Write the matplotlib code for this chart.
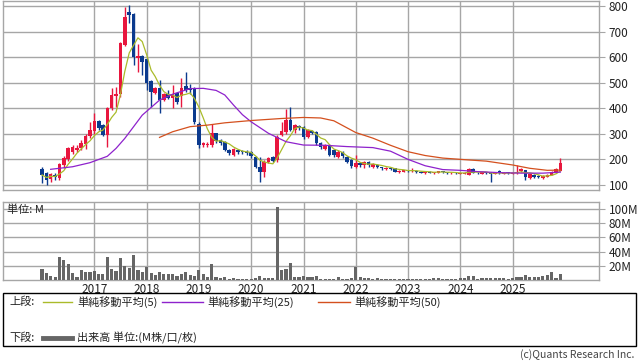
import matplotlib
matplotlib.use("Agg")
import matplotlib.pyplot as plt
import pandas as pd

plt.rcParams['font.family'] = ['Noto Sans CJK JP', 'DejaVu Sans']

# ======================
# monthly data 2016-01 .. 2025-12
# ======================
months = pd.date_range("2016-01-01", periods=120, freq="MS")

opens = [162, 148, 123, 137, 128, 178, 200, 230, 238, 245, 262, 292,
         312, 351, 334, 295, 400, 448, 455, 647, 775, 768, 596, 604,
         591, 506, 460, 479, 432, 455, 440, 458, 447, 487, 478, 479,
         340, 256, 258, 256, 302, 274, 268, 238, 218, 238, 232, 230,
         228, 210, 172, 150, 190, 210, 197, 295, 307, 354, 315, 332,
         327, 288, 312, 306, 263, 242, 256, 236, 210, 230, 210, 197,
         171, 186, 178, 190, 172, 178, 170, 163, 167, 165, 150, 152,
         157, 153, 155, 151, 146, 152, 146, 148, 153, 149, 145, 148,
         143, 144, 140, 163, 148, 144, 150, 147, 143, 156, 144, 150,
         144, 146, 153, 158, 127, 139, 135, 126, 132, 139, 147, 156]
highs = [170, 150, 148, 146, 185, 215, 250, 255, 256, 275, 300, 345,
         380, 356, 340, 406, 478, 485, 660, 795, 803, 772, 653, 610,
         595, 510, 485, 510, 460, 470, 491, 462, 517, 541, 495, 485,
         345, 268, 268, 338, 305, 280, 272, 242, 245, 242, 238, 235,
         232, 215, 210, 197, 208, 212, 295, 346, 396, 405, 340, 336,
         330, 318, 316, 310, 268, 262, 262, 240, 238, 232, 215, 200,
         217, 190, 195, 192, 185, 180, 172, 172, 169, 167, 158, 160,
         160, 165, 157, 153, 154, 154, 152, 156, 155, 151, 150, 149,
         148, 150, 168, 166, 150, 152, 151, 149, 151, 158, 150, 152,
         150, 178, 165, 160, 145, 141, 137, 137, 141, 154, 165, 205]
lows = [107, 100, 113, 118, 120, 165, 195, 220, 228, 238, 240, 285,
        300, 315, 290, 249, 393, 405, 445, 645, 735, 569, 542, 529,
        471, 406, 455, 381, 428, 435, 400, 418, 405, 464, 455, 340,
        245, 250, 250, 250, 265, 258, 232, 218, 212, 222, 222, 218,
        205, 168, 111, 132, 186, 190, 190, 290, 300, 310, 305, 315,
        280, 282, 298, 258, 240, 238, 212, 210, 205, 205, 185, 165,
        165, 172, 168, 172, 168, 166, 160, 160, 158, 150, 148, 150,
        150, 151, 148, 145, 144, 145, 144, 146, 147, 144, 143, 142,
        141, 142, 138, 145, 143, 142, 144, 112, 141, 143, 142, 143,
        142, 144, 150, 121, 125, 128, 126, 124, 130, 137, 145, 154]
closes = [139, 119, 142, 132, 180, 205, 243, 248, 246, 263, 291, 315,
          351, 321, 295, 400, 452, 456, 654, 757, 764, 600, 604, 581,
          498, 463, 478, 432, 455, 442, 455, 425, 479, 471, 470, 346,
          256, 264, 262, 302, 273, 264, 238, 225, 240, 230, 228, 225,
          212, 172, 150, 190, 205, 195, 288, 311, 353, 315, 334, 322,
          288, 314, 305, 263, 248, 256, 218, 218, 230, 212, 191, 174,
          186, 178, 190, 176, 180, 170, 165, 168, 162, 152, 156, 158,
          153, 160, 150, 147, 152, 148, 150, 154, 149, 146, 148, 145,
          146, 148, 163, 148, 145, 150, 146, 143, 149, 145, 148, 145,
          148, 152, 162, 132, 143, 131, 129, 135, 139, 152, 162, 187]
# 出来高 (M)
volumes = [15.8, 10.7, 6.5, 4.7, 32.6, 28.4, 22.8, 10.2, 5.1, 14.4, 12.1, 12.1,
           13.5, 8.8, 8.8, 32.6, 15.8, 13.0, 31.6, 19.5, 17.7, 35.3, 14.4, 11.6,
           19.0, 9.8, 7.4, 11.6, 8.8, 8.8, 8.8, 6.0, 8.8, 11.2, 7.0, 6.0,
           14.4, 8.8, 5.1, 22.8, 4.7, 3.3, 4.7, 1.9, 2.8, 1.9, 2.0, 1.4,
           1.9, 3.7, 6.0, 2.8, 3.7, 2.8, 102.0, 14.9, 15.8, 24.2, 4.7, 4.2,
           6.0, 5.1, 5.1, 6.0, 2.3, 1.9, 1.5, 1.5, 4.2, 1.5, 2.3, 3.3,
           18.6, 4.2, 2.8, 2.8, 1.9, 2.8, 1.9, 1.9, 1.9, 1.4, 1.4, 1.4,
           1.4, 1.4, 1.4, 1.9, 1.9, 1.9, 2.8, 2.8, 1.9, 1.9, 1.9, 1.9,
           3.3, 3.3, 5.6, 5.6, 1.9, 2.8, 3.3, 3.3, 3.7, 3.7, 2.8, 2.3,
           3.3, 5.1, 5.1, 7.9, 4.7, 4.7, 4.7, 6.0, 7.0, 12.0, 3.7, 8.4]

# 移動平均
ma25_months = ["2016-03", "2016-08", "2016-12", "2017-04", "2017-06", "2017-08",
               "2017-09", "2017-12", "2018-04", "2018-07", "2018-11", "2019-02",
               "2019-05", "2019-07", "2019-09", "2019-11", "2020-01", "2020-05",
               "2020-09", "2021-01", "2021-06", "2021-11", "2022-05", "2022-09",
               "2023-01", "2023-05", "2023-09", "2024-01", "2024-05", "2024-10",
               "2025-03", "2025-08", "2025-12"]
ma25_values = [161, 171, 187, 212, 243, 282, 305, 373, 432, 455, 477, 478,
               470, 452, 412, 375, 347, 302, 269, 256, 255, 250, 246, 232,
               200, 175, 160, 157, 152, 148, 146, 146, 150]
ma50_months = ["2018-04", "2018-07", "2018-11", "2019-03", "2019-07", "2020-01",
               "2020-08", "2021-01", "2021-05", "2021-08", "2022-01", "2022-05",
               "2022-09", "2023-01", "2023-05", "2023-09", "2024-01", "2024-07",
               "2025-01", "2025-05", "2025-09", "2025-12"]
ma50_values = [286, 308, 328, 334, 343, 352, 360, 364, 362, 351, 305, 283,
               255, 230, 215, 205, 200, 193, 178, 165, 157, 158]

year_ticks = list(range(2017, 2026))

UP = "#e8163e"
DOWN = "#0b3a8e"
C_MA5 = "#aabb2a"
C_MA25 = "#8e22cc"
C_MA50 = "#d4501e"
GRID = "#a6a6a6"

W, H = 638, 362


def fx(x):
    return x / W


def fy(y):
    return 1 - y / H


fig = plt.figure(figsize=(W / 100, H / 100), dpi=100)
ax = fig.add_axes([fx(3), fy(190), 596 / W, 189 / H])
axv = fig.add_axes([fx(3), fy(280.3), 596 / W, 78.3 / H])

df = pd.DataFrame({"open": opens, "high": highs, "low": lows,
                   "close": closes, "vol": volumes}, index=months)
df["ma5"] = df["close"].rolling(5, min_periods=1).mean()
up = df["close"] >= df["open"]
colors = [UP if u else DOWN for u in up]

# candles
ax.vlines(df.index, df["low"], df["high"], colors=colors, linewidth=1.0, zorder=3)
body_lo = df[["open", "close"]].min(axis=1)
body_h = (df["close"] - df["open"]).abs().clip(lower=3)
ax.bar(df.index, body_h, bottom=body_lo, width=25, color=colors, zorder=4)

ax.plot(df.index, df["ma5"], color=C_MA5, lw=0.9, zorder=5)
ax.plot(pd.to_datetime(ma25_months), ma25_values, color=C_MA25, lw=0.9, zorder=5)
ax.plot(pd.to_datetime(ma50_months), ma50_values, color=C_MA50, lw=0.9, zorder=5)

# volume
axv.bar(df.index, df["vol"], width=22, color="#666666", zorder=3)

xlim = (pd.Timestamp("2015-04-03"), pd.Timestamp("2026-08-28"))
yr_pos = [pd.Timestamp(f"{y}-01-01") for y in year_ticks]
for a in (ax, axv):
    a.set_xlim(*xlim)
    a.set_xticks(yr_pos)
    a.grid(True, color=GRID, lw=1.0, zorder=0)
    a.set_axisbelow(True)
    a.yaxis.tick_right()
    a.tick_params(axis="y", length=4, color=GRID, labelsize=8.5, pad=3, labelcolor="#222")
    a.tick_params(axis="x", length=0)
    for s in a.spines.values():
        s.set_color(GRID)
        s.set_linewidth(1.0)

ax.set_ylim(80, 820)
ax.set_yticks(range(100, 801, 100))
ax.set_xticklabels([])

axv.set_ylim(0, 109.5)
axv.set_yticks([20, 40, 60, 80, 100])
axv.set_yticklabels([f"{v}M" for v in [20, 40, 60, 80, 100]])
axv.set_xticklabels([str(y) for y in year_ticks], fontsize=8.5, color="#222")
axv.tick_params(axis="x", pad=2)
axv.text(4 / 596, 0.9, "単位: M", transform=axv.transAxes, fontsize=8,
         va="center", ha="left", color="#222")

# legend box
fig.add_artist(plt.Rectangle((fx(3), fy(346)), 633 / W, 53 / H, transform=fig.transFigure,
                             fill=False, edgecolor="black", lw=1.0))


def seg(x0, x1, y, color, lw):
    fig.add_artist(plt.Line2D([fx(x0), fx(x1)], [fy(y), fy(y)],
                              transform=fig.transFigure, color=color, lw=lw))


fig.text(fx(9), fy(302), "上段:", fontsize=8, va="center", color="#222")
seg(43, 72, 302, C_MA5, 1.0)
fig.text(fx(77), fy(302), "単純移動平均(5)", fontsize=8, va="center", color="#222")
seg(162, 203, 302, C_MA25, 1.0)
fig.text(fx(207), fy(302), "単純移動平均(25)", fontsize=8, va="center", color="#222")
seg(318, 350, 302, C_MA50, 1.0)
fig.text(fx(354), fy(302), "単純移動平均(50)", fontsize=8, va="center", color="#222")

fig.text(fx(9), fy(338), "下段:", fontsize=8, va="center", color="#222")
seg(43, 72, 338, "#666666", 3.5)
fig.text(fx(77), fy(338), "出来高 単位:(M株/口/枚)", fontsize=8, va="center", color="#222")

fig.text(fx(634), fy(355), "(c)Quants Research Inc.", fontsize=7.5, ha="right",
         va="center", color="#444")

plt.savefig("out.png", dpi=100)
